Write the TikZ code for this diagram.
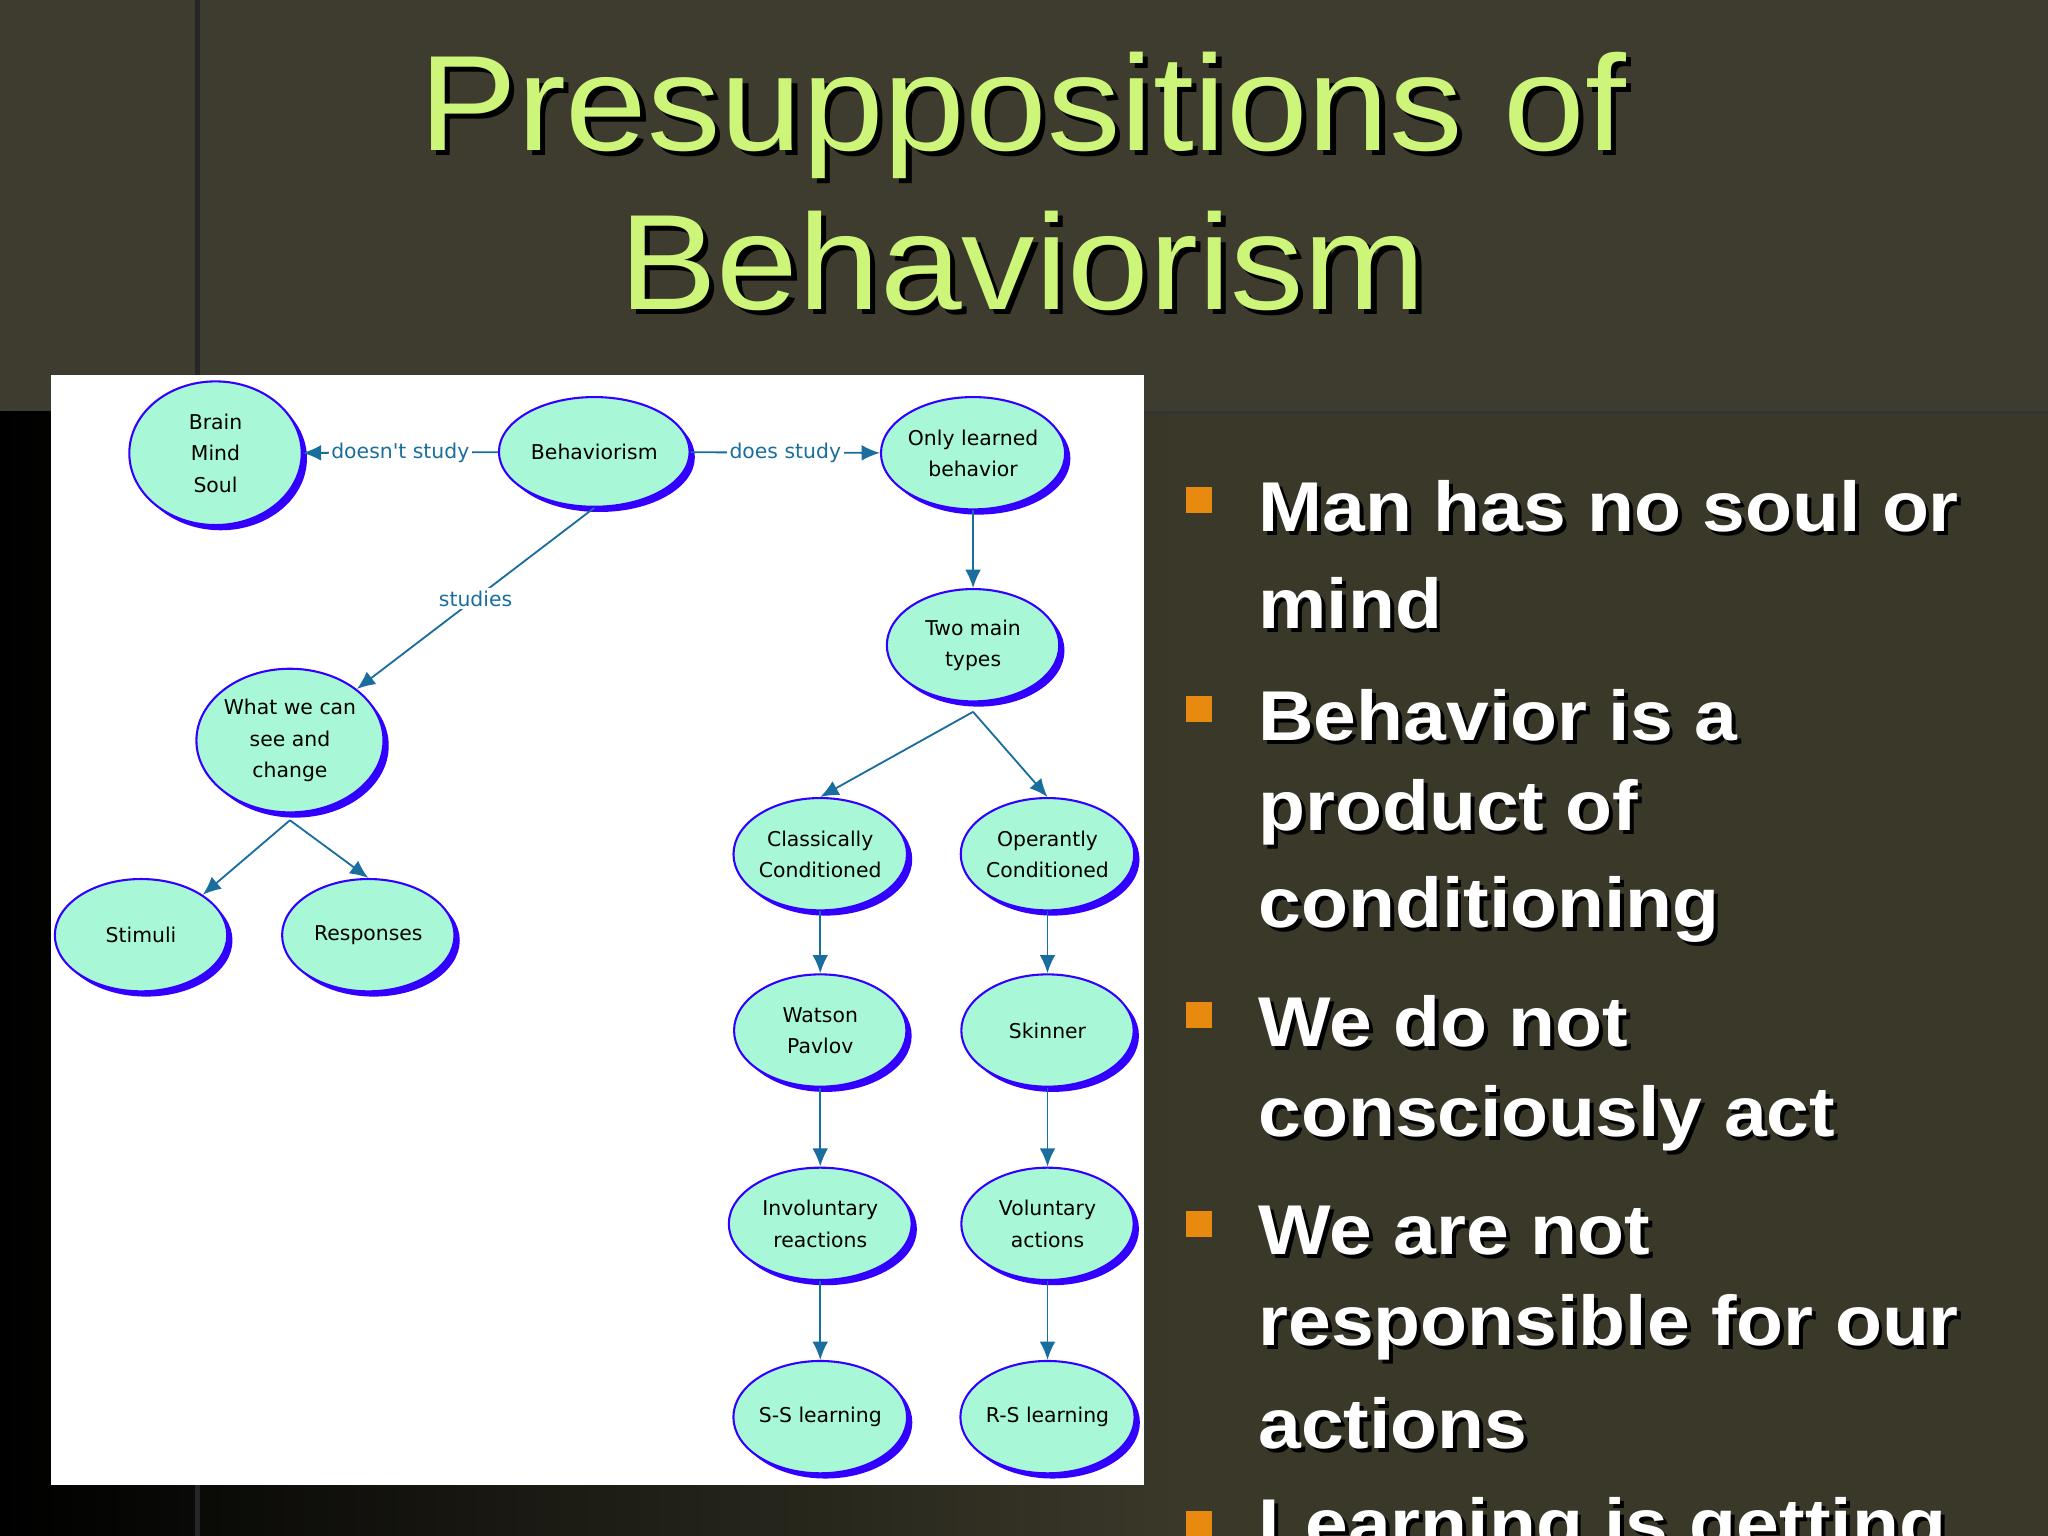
\documentclass[tikz,border=0pt]{standalone}
\usepackage{fontspec}
\setmainfont{Liberation Sans}
\newfontfamily\diag{DejaVu Sans}
\usetikzlibrary{shapes.geometric,arrows.meta}
\definecolor{bgtop}{HTML}{3D3C2E}
\definecolor{bgbot}{HTML}{3A3829}
\definecolor{bub}{HTML}{A8F8D8}
\definecolor{bubline}{HTML}{3300FF}
\definecolor{conn}{HTML}{1A6E9E}
\definecolor{titlec}{HTML}{CCF57A}
\definecolor{bulc}{HTML}{E88A10}
\begin{document}
\begin{tikzpicture}[x=0.5pt,y=-0.5pt,
  bubble/.style={ellipse,draw=bubline,line width=0.8pt,fill=bub,inner sep=0pt,
    minimum width=66pt,minimum height=43pt,align=center,
    font=\diag\fontsize{7.8}{12}\selectfont,
    preaction={fill=bubline,transform canvas={shift={(2pt,-2pt)}}}},
  conn/.style={draw=conn,line width=0.7pt,-{Latex[length=7pt,width=6pt]}},
  lab/.style={fill=white,text=conn,inner sep=1pt,font=\diag\fontsize{7.8}{10}\selectfont},
  ttl/.style={font=\fontsize{52}{56}\selectfont,text=titlec,xscale=1.08},
  bul/.style={font=\bfseries\fontsize{27}{30}\selectfont,text=white,anchor=west,inner sep=0pt,xscale=1.09},
  sq/.style={fill=bulc,minimum size=10pt,inner sep=0pt}]
\useasboundingbox (0,0) rectangle (1568,1176);
\fill[bgbot] (0,315) rectangle (1568,1176);
\shade[left color=black,right color=bgbot] (0,315) rectangle (900,1176);
\fill[bgtop] (0,0) rectangle (1568,315);
\fill[black!85] (149,0) rectangle (153,1176);
\draw[black!80,line width=1pt] (876,316) -- (1568,316);
% titles
\node[ttl,text=black] at (787,92) {Presuppositions of};
\node[ttl] (t1) at (783,88) {Presuppositions of};
\node[ttl,text=black] at (787,204) {Behaviorism};
\node[ttl] (t2) at (783,200) {Behaviorism};
% diagram panel
\fill[white] (39,287) rectangle (876,1137);
\node[bubble,minimum height=55pt] (brain) at (165,347) {Brain\\Mind\\Soul};
\node[bubble,minimum width=73pt,minimum height=42pt] (beh) at (455,346) {Behaviorism};
\node[bubble] (only) at (745,347) {Only learned\\behavior};
\node[bubble] (two) at (745,494) {Two main\\types};
\node[bubble,minimum height=55pt] (what) at (222,567) {What we can\\see and\\change};
\node[bubble] (cla) at (628,654) {Classically\\Conditioned};
\node[bubble] (ope) at (802,654) {Operantly\\Conditioned};
\node[bubble] (sti) at (108,716) {Stimuli};
\node[bubble] (res) at (282,716) {Responses};
\node[bubble] (wat) at (628,789) {Watson\\Pavlov};
\node[bubble] (ski) at (802,789) {Skinner};
\node[bubble,minimum width=70pt] (inv) at (628,937) {Involuntary\\reactions};
\node[bubble] (vol) at (802,937) {Voluntary\\actions};
\node[bubble] (ss) at (628,1085) {S-S learning};
\node[bubble] (rs) at (802,1085) {R-S learning};
% connectors
\draw[conn] (beh) -- node[lab] {doesn't study} (brain);
\draw[conn] (beh) -- node[lab] {does study} (only);
\draw[conn] (beh.south) -- node[lab] {studies} (what.north east);
\draw[conn] (only) -- (two);
\coordinate (tb) at (745,545);
\draw[conn] (tb) -- (cla.north);
\draw[conn] (tb) -- (ope.north);
\coordinate (wb) at (222,628);
\draw[conn] (wb) -- (sti.north east);
\draw[conn] (wb) -- (res.north);
\draw[conn] (cla) -- (wat);
\draw[conn] (ope) -- (ski);
\draw[conn] (wat) -- (inv);
\draw[conn] (ski) -- (vol);
\draw[conn] (inv) -- (ss);
\draw[conn] (vol) -- (rs);
% bullets
\foreach \y/\t/\n in {388/Man has no soul or/b1,462/mind/b1b,548/Behavior is a/b2,622/product of/b2b,696/conditioning/b2c,782/We do not/b3,856/consciously act/b3b,942/We are not/b4,1016/responsible for our/b4b,1090/actions/b4c,1172/Learning is getting/b5}{
  \node[bul,text=black] at (966,\y+3) {\t};
  \node[bul] (\n) at (963,\y) {\t};
}
\foreach \y in {383,543,777,937,1167}{\node[sq] at (918,\y) {};}
\end{tikzpicture}
\end{document}
